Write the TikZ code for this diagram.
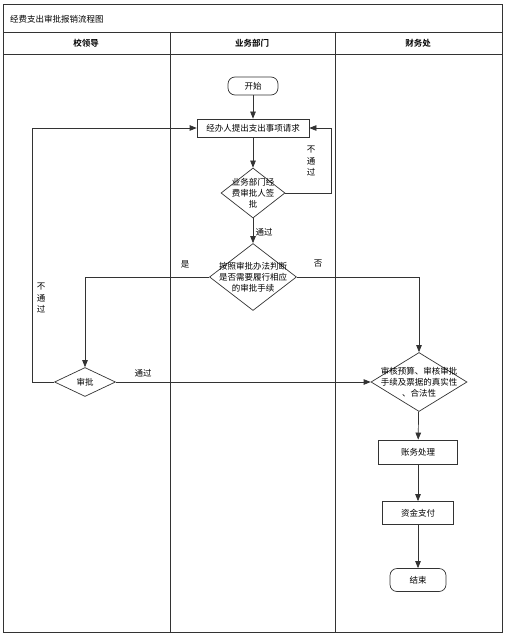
\documentclass[tikz,border=0pt]{standalone}
\usepackage{fontspec}
\setmainfont{Noto Sans CJK SC}[BoldFont={Noto Sans CJK SC Bold}]
\usetikzlibrary{shapes.geometric,arrows.meta}

\begin{document}
\begin{tikzpicture}[x=1pt,y=-1pt,
    every node/.style={font=\fontsize{8.5}{11}\selectfont},
    line/.style={draw=black!80,line width=0.7pt},
    arr/.style={line,-{Triangle[length=7pt,width=5.5pt]}},
    stepbox/.style={line,rectangle,inner sep=0pt},
    term/.style={line,rectangle,rounded corners=7pt,inner sep=0pt},
    dia/.style={line,diamond,inner sep=0pt},
    txt/.style={align=center,inner sep=0pt},
    lanehead/.style={font=\fontsize{8.5}{11}\selectfont\bfseries}]
    \useasboundingbox (0,0) rectangle (508,636);

    % Draw frame, title row and header row
    \draw[line] (3,4) rectangle (502,632);
    \draw[line] (3,32) -- (502,32);
    \draw[line] (3,54) -- (502,54);
    \node[anchor=west,inner sep=0pt] (title) at (10,19) {经费支出审批报销流程图};

    % Draw the lane dividers
    \draw[line] (170,32) -- (170,632);
    \draw[line] (335,32) -- (335,632);
    \node[lanehead] (lane1) at (86,43) {校领导};
    \node[lanehead] (lane2) at (252,43) {业务部门};
    \node[lanehead] (lane3) at (418,43) {财务处};

    % Steps in the department lane
    \node[term,minimum width=50pt,minimum height=18pt] (start) at (253,86) {开始};
    \node[stepbox,minimum width=112pt,minimum height=18pt] (req) at (253,128) {经办人提出支出事项请求};
    \node[dia,minimum width=64pt,minimum height=50pt] (d1) at (253,193) {};
    \node[txt] at (d1) {业务部门经\\费审批人签\\批};
    \node[dia,minimum width=87pt,minimum height=67pt] (d2) at (253,277) {};
    \node[txt] at (d2) {按照审批办法判断\\是否需要履行相应\\的审批手续};

    % Step in the leader lane
    \node[dia,minimum width=61pt,minimum height=29pt] (sp) at (85,382) {审批};

    % Steps in the finance lane
    \node[dia,minimum width=96pt,minimum height=59pt] (d3) at (419,382) {};
    \node[txt] at (d3) {审核预算、审核审批\\手续及票据的真实性\\、合法性};
    \node[stepbox,minimum width=79pt,minimum height=24pt] (acc) at (418,452) {账务处理};
    \node[stepbox,minimum width=71pt,minimum height=23pt] (pay) at (418,513) {资金支付};
    \node[term,minimum width=56pt,minimum height=23pt] (end) at (418,580) {结束};

    % Connectors
    \draw[arr] (start) -- (req);
    \draw[arr] (req) -- (d1);
    \draw[arr] (d1.east) -- ++(46,0) |- (req.east);
    \draw[arr] (d1) -- (d2);
    \draw[arr] (d2.west) -| (sp.north);
    \draw[arr] (d2.east) -| (d3.north);
    \draw[arr] (sp.west) -- ++(-22,0) |- (req.west);
    \draw[arr] (sp.east) -- (d3.west);
    \draw[arr] (d3) -- (acc);
    \draw[arr] (acc) -- (pay);
    \draw[arr] (pay) -- (end);

    % Connector labels
    \node[txt,font=\fontsize{8.5}{11.5}\selectfont] (no1) at (311,161) {不\\通\\过};
    \node[txt] (ok1) at (264,232) {通过};
    \node[txt] (yes) at (185,264) {是};
    \node[txt] (no) at (318,264) {否};
    \node[txt,font=\fontsize{8.5}{11.5}\selectfont] (no2) at (41,298) {不\\通\\过};
    \node[txt] (ok2) at (143,373) {通过};
\end{tikzpicture}
\end{document}
